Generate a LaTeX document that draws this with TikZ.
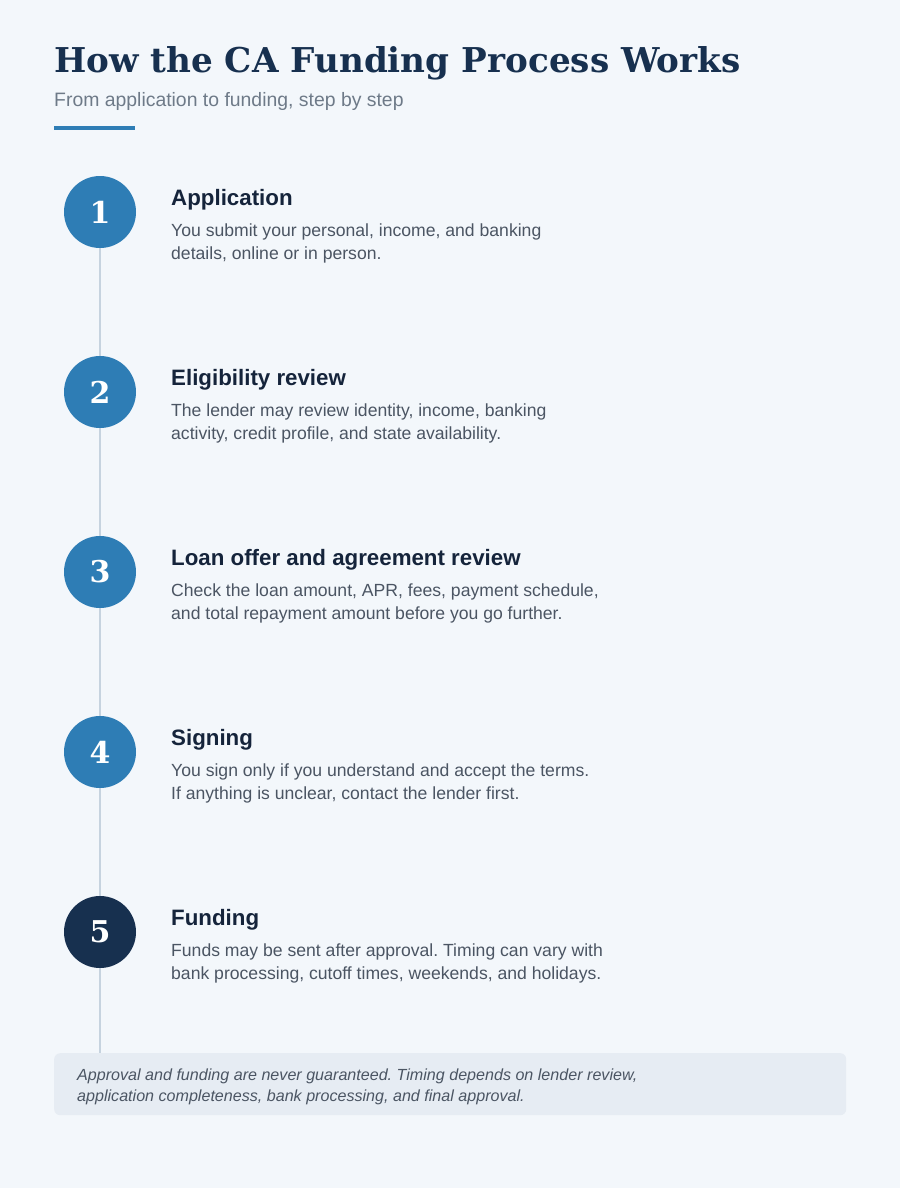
\documentclass[tikz,border=0pt]{standalone}
\usepackage{fontspec}
\setmainfont{Liberation Sans}
\newfontfamily\serifface{DejaVu Serif}
\frenchspacing

\definecolor{pagebg}{HTML}{F3F7FB}
\definecolor{navy}{HTML}{17304F}
\definecolor{stepblue}{HTML}{2E7DB5}
\definecolor{headink}{HTML}{15243B}
\definecolor{bodyink}{HTML}{4B5563}
\definecolor{subink}{HTML}{6E7A88}
\definecolor{railgray}{HTML}{C6D3DF}
\definecolor{notebg}{HTML}{E6ECF3}

\tikzset{
  stepdot/.style={circle, fill=stepblue, minimum size=72pt, inner sep=0pt,
    text=white, font=\serifface\bfseries\fontsize{30}{30}\selectfont},
  steptitle/.style={anchor=base west, inner sep=0pt, text=headink,
    font=\bfseries\fontsize{22.3}{26}\selectfont},
  stepline/.style={anchor=base west, inner sep=0pt, text=bodyink,
    font=\fontsize{17.6}{23}\selectfont},
  noteline/.style={anchor=base west, inner sep=0pt, text=bodyink,
    font=\itshape\fontsize{16.1}{21}\selectfont},
}

\begin{document}
\begin{tikzpicture}[x=1pt,y=-1pt]
\useasboundingbox (0,0) rectangle (900,1188);
\fill[pagebg] (0,0) rectangle (900,1188);

% heading
\node[anchor=base west, inner sep=0pt, text=navy,
  font=\serifface\bfseries\fontsize{34.2}{38}\selectfont] (head) at (54,73)
  {How the CA Funding Process Works};
\node[anchor=base west, inner sep=0pt, text=subink,
  font=\fontsize{19.4}{23}\selectfont] (sub) at (54,106.5)
  {From application to funding, step by step};
\fill[stepblue] (54,126) rectangle (135,130);

% note box
\node[anchor=north west, minimum width=792pt, minimum height=62pt,
  inner sep=0pt, fill=notebg, rounded corners=6pt] (note) at (54,1053) {};
\node[noteline] (n1) at (77,1080)
  {Approval and funding are never guaranteed. Timing depends on lender review,};
\node[noteline] (n2) at (77,1101)
  {application completeness, bank processing, and final approval.};

% rail
\coordinate (rtop) at (100,212);
\coordinate (rbot) at (100,1053);
\draw[railgray, line width=2.5pt] (rtop) -- (rbot);

% step 1
\node[stepdot] (c1) at (100,212) {1};
\node[steptitle] (t1) at (171,205) {Application};
\node[stepline] (d1a) at (171,236) {You submit your personal, income, and banking};
\node[stepline] (d1b) at (171,259) {details, online or in person.};

% step 2
\node[stepdot] (c2) at (100,392) {2};
\node[steptitle] (t2) at (171,385) {Eligibility review};
\node[stepline] (d2a) at (171,416) {The lender may review identity, income, banking};
\node[stepline] (d2b) at (171,439) {activity, credit profile, and state availability.};

% step 3
\node[stepdot] (c3) at (100,572) {3};
\node[steptitle] (t3) at (171,565) {Loan offer and agreement review};
\node[stepline] (d3a) at (171,596) {Check the loan amount, APR, fees, payment schedule,};
\node[stepline] (d3b) at (171,619) {and total repayment amount before you go further.};

% step 4
\node[stepdot] (c4) at (100,752) {4};
\node[steptitle] (t4) at (171,745) {Signing};
\node[stepline] (d4a) at (171,776) {You sign only if you understand and accept the terms.};
\node[stepline] (d4b) at (171,799) {If anything is unclear, contact the lender first.};

% step 5
\node[stepdot, fill=navy] (c5) at (100,932) {5};
\node[steptitle] (t5) at (171,925) {Funding};
\node[stepline] (d5a) at (171,956) {Funds may be sent after approval. Timing can vary with};
\node[stepline] (d5b) at (171,979) {bank processing, cutoff times, weekends, and holidays.};

\end{tikzpicture}
\end{document}
